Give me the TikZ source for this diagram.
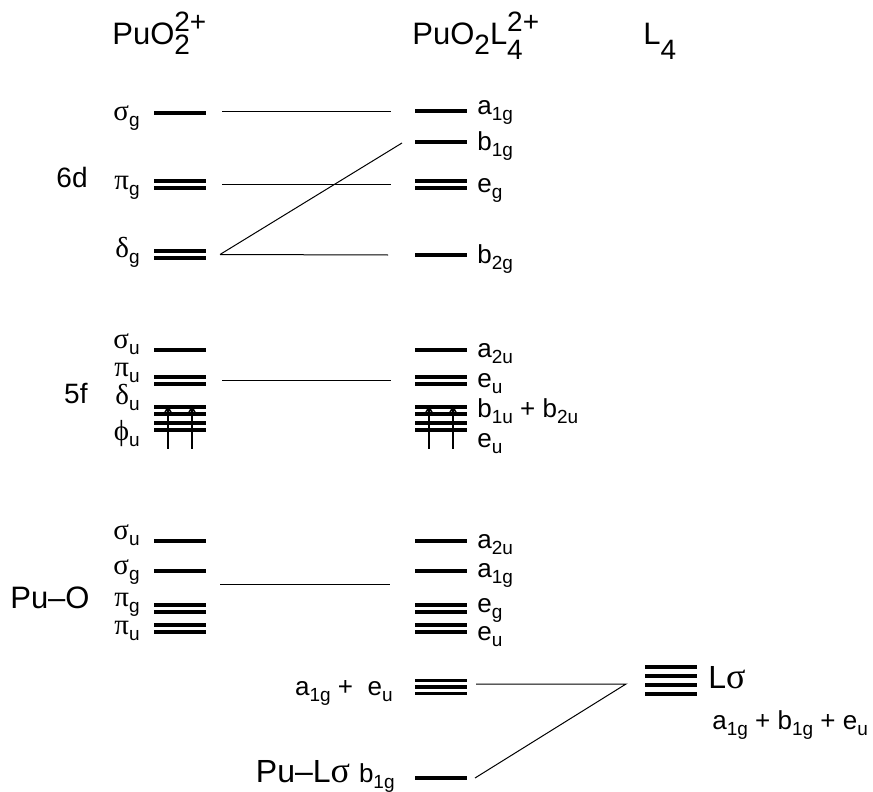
\documentclass[tikz,border=0pt]{standalone}
\usepackage{fontspec}
\setmainfont{Liberation Sans}
\newfontfamily\grfont{Liberation Serif}
\usetikzlibrary{arrows.meta, positioning, calc}

\newcommand{\lblsize}{\fontsize{13}{15}\selectfont}
\newcommand{\bigsize}{\fontsize{14}{16}\selectfont}
\newcommand{\hugesize}{\fontsize{15.5}{17}\selectfont}
\newcommand{\hdsize}{\fontsize{15.5}{17}\selectfont}
\newcommand{\scrsize}{\fontsize{14}{15}\selectfont}
\newcommand{\gk}[1]{{\grfont\fontsize{14.5}{16}\selectfont #1}}
\newcommand{\sbs}[1]{\raisebox{-3pt}{\fontsize{9.5}{10}\selectfont #1}}
\newcommand{\hsub}[2]{\raisebox{-#1}{\scrsize #2}}
\newcommand{\hsup}[1]{\raisebox{6.5pt}{\scrsize #1}}

\begin{document}
\begin{tikzpicture}[x=0.5pt, y=-0.5pt,
  lev/.style={fill=black, minimum width=26pt, minimum height=1.55pt, inner sep=0pt, outer sep=0pt},
  conn/.style={line width=0.5pt},
  elec/.style={-{Straight Barb[length=4pt,width=4.5pt]}, line width=0.8pt},
  lbl/.style={font=\lblsize, inner sep=0pt},
  sym/.style={lbl, anchor=base east},
  irr/.style={lbl, anchor=base west},
  big/.style={font=\bigsize, inner sep=0pt}
]
\useasboundingbox (0,0) rectangle (873,792);

% headers
\node[font=\hdsize, inner sep=0pt, anchor=base west] (hion) at (112,45) {PuO\rlap{\hsub{5pt}{2}}\hsup{2+}};
\node[font=\hdsize, inner sep=0pt, anchor=base west] (hcpx) at (412,45) {PuO\hsub{5pt}{2}L\rlap{\hsub{7.5pt}{4}}\hsup{2+}};
\node[font=\hdsize, inner sep=0pt, anchor=base west] (hlig) at (643,45) {L\hsub{7.5pt}{4}};

% PuO2 levels
\node[lev] (sgd) at (180,113) {};
\node[lev] (pgdA) at (180,181) {};
\node[lev] (pgdB) at (180,188) {};
\node[lev] (dgdA) at (180,251) {};
\node[lev] (dgdB) at (180,258) {};
\node[lev] (suf) at (180,350) {};
\node[lev] (pufA) at (180,377) {};
\node[lev] (pufB) at (180,384) {};
\node[lev] (dufA) at (180,407) {};
\node[lev] (dufB) at (180,414) {};
\node[lev] (fufA) at (180,423) {};
\node[lev] (fufB) at (180,430) {};
\node[lev] (suo) at (180,541) {};
\node[lev] (sgo) at (180,571) {};
\node[lev] (pgoA) at (180,605) {};
\node[lev] (pgoB) at (180,612) {};
\node[lev] (puoA) at (180,625) {};
\node[lev] (puoB) at (180,632) {};

% PuO2L4 levels
\node[lev] (a1gd) at (441,111) {};
\node[lev] (b1gd) at (441,142) {};
\node[lev] (egdA) at (441,181) {};
\node[lev] (egdB) at (441,188) {};
\node[lev] (b2gd) at (441,255) {};
\node[lev] (a2uf) at (441,350) {};
\node[lev] (eufA) at (441,377) {};
\node[lev] (eufB) at (441,384) {};
\node[lev] (bufA) at (441,407) {};
\node[lev] (bufB) at (441,414) {};
\node[lev] (eufC) at (441,423) {};
\node[lev] (eufD) at (441,430) {};
\node[lev] (a2uo) at (441,541) {};
\node[lev] (a1go) at (441,571) {};
\node[lev] (egoA) at (441,605) {};
\node[lev] (egoB) at (441,612) {};
\node[lev] (euoA) at (441,625) {};
\node[lev] (euoB) at (441,632) {};
\node[lev] (lsA) at (441,680.5) {};
\node[lev] (lsB) at (441,687) {};
\node[lev] (lsC) at (441,693.5) {};
\node[lev] (b1gl) at (441,778) {};

% L4 levels
\node[lev] (lA) at (671,667) {};
\node[lev] (lB) at (671,676) {};
\node[lev] (lC) at (671,685) {};
\node[lev] (lD) at (671,694) {};

% electrons
\draw[elec] ($(fufB.south)+(-12,17)$) -- ($(dufA.north)+(-12,0)$);
\draw[elec] ($(fufB.south)+(12,17)$) -- ($(dufA.north)+(12,0)$);
\draw[elec] ($(eufD.south)+(-12,17)$) -- ($(bufA.north)+(-12,0)$);
\draw[elec] ($(eufD.south)+(12,17)$) -- ($(bufA.north)+(12,0)$);

% correlation lines
\draw[conn] ($(sgd.east)+(16,-1)$) -- ($(a1gd.west)+(-24,1)$);
\draw[conn] ($(pgdA.east)!.5!(pgdB.east)+(16,0)$) -- ($(egdA.west)!.5!(egdB.west)+(-24,0)$);
\draw[conn] ($(dgdA.east)!.5!(dgdB.east)+(14,0)$) coordinate (dgx) -- ($(b1gd.west)+(-13,1)$);
\draw[conn] (dgx) -- ($(b2gd.west)+(-27,0)$);
\draw[conn] ($(pufA.east)!.5!(pufB.east)+(16,0)$) -- ($(eufA.west)!.5!(eufB.west)+(-24,0)$);
\draw[conn] ($(sgo.east)+(14,13)$) -- ($(a1go.west)+(-25,13)$);
\coordinate (lmeet) at (626,684);
\draw[conn] ($(lsB.east)+(9,-3)$) -- (lmeet) -- ($(b1gl.east)+(8,0)$);

% PuO2 labels
\node[big, anchor=base east] (t6d) at (88,187) {6d};
\node[big, anchor=base east] (t5f) at (88,403) {5f};
\node[font=\hugesize, inner sep=0pt, anchor=base east] (tpuo) at (90,608) {Pu--O};
\node[sym] (lsgd) at (140,120) {\gk{σ}\sbs{g}};
\node[sym] (lpgd) at (140,190) {\gk{π}\sbs{g}};
\node[sym] (ldgd) at (140,257) {\gk{δ}\sbs{g}};
\node[sym] (lsuf) at (140,348) {\gk{σ}\sbs{u}};
\node[sym] (lpuf) at (140,376) {\gk{π}\sbs{u}};
\node[sym] (lduf) at (140,404) {\gk{δ}\sbs{u}};
\node[sym] (lfuf) at (140,440) {\gk{ϕ}\sbs{u}};
\node[sym] (lsuo) at (140,539) {\gk{σ}\sbs{u}};
\node[sym] (lsgo) at (140,574) {\gk{σ}\sbs{g}};
\node[sym] (lpgo) at (140,606) {\gk{π}\sbs{g}};
\node[sym] (lpuo) at (140,634) {\gk{π}\sbs{u}};

% PuO2L4 labels
\node[irr] (la1gd) at (477,115) {a\sbs{1g}};
\node[irr] (lb1gd) at (477,150) {b\sbs{1g}};
\node[irr] (legd) at (477,192) {e\sbs{g}};
\node[irr] (lb2gd) at (477,263) {b\sbs{2g}};
\node[irr] (la2uf) at (477,357) {a\sbs{2u}};
\node[irr] (leuf) at (477,387) {e\sbs{u}};
\node[irr] (lbuf) at (477,417) {b\sbs{1u} + b\sbs{2u}};
\node[irr] (leufl) at (477,447) {e\sbs{u}};
\node[irr] (la2uo) at (477,548) {a\sbs{2u}};
\node[irr] (la1go) at (477,577) {a\sbs{1g}};
\node[irr] (lego) at (477,612) {e\sbs{g}};
\node[irr] (leuo) at (477,640) {e\sbs{u}};
\node[lbl, anchor=base east] (lls) at (393,695) {a\sbs{1g} + \ e\sbs{u}};
\node[font=\fontsize{16}{18}\selectfont, inner sep=0pt, anchor=base east] (lpul) at (395,782) {Pu--L\gk{\fontsize{18}{18}\selectfont σ} {\lblsize b\sbs{1g}}};

% L4 labels
\node[font=\fontsize{16}{18}\selectfont, inner sep=0pt, anchor=base west] (tls) at (708,688) {L\gk{\fontsize{18}{18}\selectfont σ}};
\node[irr] (lsym) at (712,729) {a\sbs{1g} + b\sbs{1g} + e\sbs{u}};
\end{tikzpicture}
\end{document}
